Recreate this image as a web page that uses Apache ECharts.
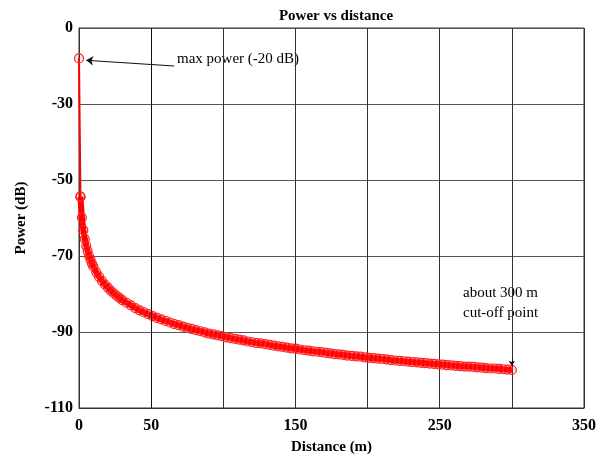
<!DOCTYPE html>
<html>
<head>
<meta charset="utf-8">
<script src="https://cdn.jsdelivr.net/npm/echarts@6/dist/echarts.min.js"></script>
<style>
  html, body { margin: 0; padding: 0; background: #fff; }
  #chart { width: 600px; height: 465px; }
</style>
</head>
<body>
<div id="chart"></div>
<script>
// distance (m) of every sample
var distances = [0, 1, 2, 3, 4, 5, 6, 7, 8, 9, 10, 12, 14, 16, 18, 20, 22, 24, 26, 28, 30,
  33, 36, 39, 42, 45, 48, 51, 54, 57, 60, 63, 66, 69, 72, 75, 78, 81, 84, 87, 90,
  93, 96, 99, 102, 105, 108, 111, 114, 117, 120, 123, 126, 129, 132, 135, 138, 141, 144, 147, 150,
  153, 156, 159, 162, 165, 168, 171, 174, 177, 180, 183, 186, 189, 192, 195, 198, 201, 204, 207, 210,
  213, 216, 219, 222, 225, 228, 231, 234, 237, 240, 243, 246, 249, 252, 255, 258, 261, 264, 267, 270,
  273, 276, 279, 282, 285, 288, 291, 294, 297, 300];
// received power (dB)
var powers = [-18, -54.4, -59.9, -63.2, -65.5, -67.3, -68.7, -70.0, -71.0, -72.0, -72.8, -74.3, -75.5, -76.6, -77.5, -78.3, -79.1, -79.8, -80.4, -81.0, -81.6,
  -82.3, -83.0, -83.7, -84.3, -84.8, -85.3, -85.8, -86.3, -86.7, -87.1, -87.5, -87.9, -88.2, -88.6, -88.9, -89.2, -89.5, -89.8, -90.1, -90.4,
  -90.6, -90.9, -91.1, -91.4, -91.6, -91.8, -92.0, -92.2, -92.5, -92.7, -92.9, -93.0, -93.2, -93.4, -93.6, -93.8, -93.9, -94.1, -94.3, -94.4,
  -94.6, -94.8, -94.9, -95.1, -95.2, -95.3, -95.5, -95.6, -95.8, -95.9, -96.0, -96.2, -96.3, -96.4, -96.5, -96.7, -96.8, -96.9, -97.0, -97.1,
  -97.2, -97.4, -97.5, -97.6, -97.7, -97.8, -97.9, -98.0, -98.1, -98.2, -98.3, -98.4, -98.5, -98.6, -98.7, -98.8, -98.9, -99.0, -99.1, -99.1,
  -99.2, -99.3, -99.4, -99.5, -99.6, -99.6, -99.7, -99.8, -99.9, -100.0];

var xTickLabels = ['0', '50', '', '150', '', '250', '', '350'];
var yTickLabels = ['-110', '-90', '-70', '-50', '-30', '0'];

var serif = '"Liberation Serif", "DejaVu Serif", serif';

var points = [];
for (var i = 0; i < distances.length; i++) {
  points.push([distances[i], powers[i]]);
}

var chart = echarts.init(document.getElementById('chart'), null, { renderer: 'canvas' });

chart.setOption({
  backgroundColor: '#ffffff',
  animation: false,
  title: {
    text: 'Power vs distance',
    left: 331,
    top: 4,
    textAlign: 'center',
    textStyle: { fontFamily: serif, fontSize: 15, fontWeight: 'bold', color: '#000' }
  },
  grid: {
    left: 79, right: 16, top: 28, bottom: 57,
    show: true, borderColor: '#333', borderWidth: 1
  },
  xAxis: {
    type: 'value',
    min: 0, max: 350, interval: 50,
    name: 'Distance (m)',
    nameLocation: 'middle',
    nameGap: 32,
    nameTextStyle: { fontFamily: serif, fontSize: 15, fontWeight: 'bold', color: '#000' },
    axisLine: { show: true, onZero: false, lineStyle: { color: '#333', width: 1 } },
    axisTick: { show: false },
    splitLine: { show: true, lineStyle: { color: '#333', width: 1 } },
    axisLabel: {
      margin: 10,
      fontFamily: serif, fontSize: 16, fontWeight: 'bold', color: '#000',
      formatter: function (v) { return xTickLabels[Math.round(v / 50)] || ''; }
    }
  },
  yAxis: {
    type: 'value',
    min: -110, max: -10, interval: 20,
    name: 'Power (dB)',
    nameLocation: 'middle',
    nameGap: 50,
    nameTextStyle: { fontFamily: serif, fontSize: 15, fontWeight: 'bold', color: '#000' },
    axisLine: { show: true, onZero: false, lineStyle: { color: '#333', width: 1 } },
    axisTick: { show: false },
    splitLine: { show: true, lineStyle: { color: '#555', width: 1 } },
    axisLabel: {
      margin: 6,
      fontFamily: serif, fontSize: 16, fontWeight: 'bold', color: '#000',
      formatter: function (v) { return yTickLabels[Math.round((v + 110) / 20)]; }
    }
  },
  series: [{
    // the drop from the max-power sample to the first measured one
    type: 'line',
    data: points.slice(0, 2),
    symbol: 'circle',
    symbolSize: 9,
    showSymbol: true,
    itemStyle: { color: 'rgba(255,0,0,0.08)', borderColor: '#ff2020', borderWidth: 1.2 },
    lineStyle: { color: '#ff0000', width: 2 },
    z: 3,
    markLine: {
      silent: true,
      animation: false,
      label: { show: false },
      data: [
        [{ coord: [66, -20], symbol: 'none' }, { coord: [5, -18.5], symbol: 'arrow', symbolSize: 7 }],
        [{ coord: [300, -97], symbol: 'none' }, { coord: [300, -98.9], symbol: 'arrow', symbolSize: 5 }],
        [{ coord: [50, -110], symbol: 'none' }, { coord: [50, -10], symbol: 'none' }]
      ],
      lineStyle: { color: '#111', width: 1, type: 'solid' }
    }
  }, {
    type: 'line',
    data: points.slice(1),
    symbol: 'circle',
    symbolSize: 9,
    showSymbol: true,
    itemStyle: { color: 'rgba(255,0,0,0.12)', borderColor: '#ff2020', borderWidth: 1.2 },
    lineStyle: { color: '#ff0000', width: 6 },
    z: 3
  }],
  graphic: [
    { type: 'text', left: 177, top: 52,
      style: { text: 'max power (-20 dB)', font: 'normal 15px ' + serif, fill: '#000' } },
    { type: 'text', left: 463, top: 283,
      style: { text: 'about 300 m\ncut-off point', font: 'normal 15px ' + serif, fill: '#000', lineHeight: 20 } }
  ]
});
</script>
</body>
</html>
